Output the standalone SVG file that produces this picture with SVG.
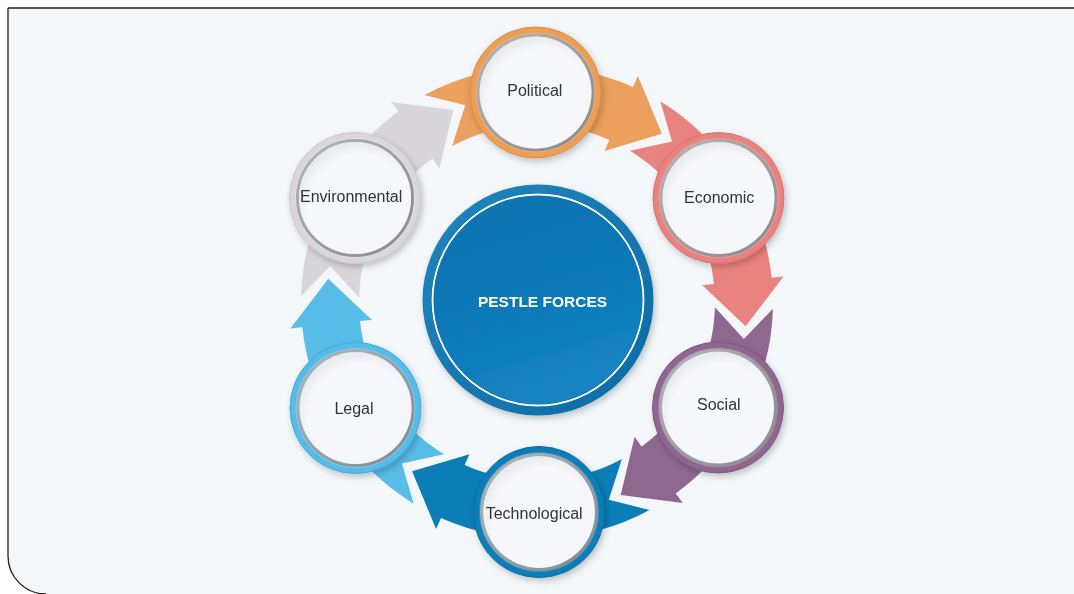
<svg xmlns="http://www.w3.org/2000/svg" width="1074" height="594" viewBox="0 0 1074 594">
  <defs>
    <style>
      .lbl { font-family: "Liberation Sans", Arial, sans-serif; font-size: 16px; fill: #333333; text-anchor: middle; }
      .title { font-family: "Liberation Sans", Arial, sans-serif; font-size: 15.5px; font-weight: bold; fill: #ffffff; text-anchor: middle; }
      .arrow { stroke: none; }
      .gray-ring { fill: none; stroke: url(#grayRing); stroke-width: 3; }
      .face { fill: url(#faceGrad); }
    </style>
    <filter id="sh" x="-25%" y="-25%" width="150%" height="150%">
      <feDropShadow dx="2" dy="3" stdDeviation="3" flood-color="#000000" flood-opacity="0.22"/>
    </filter>
    <linearGradient id="grayRing" x1="0" y1="0" x2="1" y2="1">
      <stop offset="0" stop-color="#B3B6B9"/>
      <stop offset="1" stop-color="#868A8D"/>
    </linearGradient>
    <radialGradient id="faceGrad" cx="0.55" cy="0.58" r="0.6">
      <stop offset="0.78" stop-color="#F5F7FA"/>
      <stop offset="1" stop-color="#E6E9EC"/>
    </radialGradient>
    <linearGradient id="rimGrad" x1="0" y1="0" x2="1" y2="1">
      <stop offset="0" stop-color="#2386BE"/>
      <stop offset="1" stop-color="#0A6AA3"/>
    </linearGradient>
    <linearGradient id="coreGrad" x1="0" y1="0" x2="0.3" y2="1">
      <stop offset="0" stop-color="#0A72B0"/>
      <stop offset="0.6" stop-color="#0B79B8"/>
      <stop offset="1" stop-color="#1583C0"/>
    </linearGradient>
  </defs>

  <!-- background panel -->
  <rect x="0" y="0" width="1074" height="594" fill="#ffffff"/>
  <path d="M1074 8 H8 V556 A38 38 0 0 0 46 594 H1074 Z" fill="#F3F7FA"/>
  <path d="M1074 8 H8" fill="none" stroke="#555555" stroke-width="1.8"/>
  <path d="M8 8 V556 A38 38 0 0 0 46 594" fill="none" stroke="#222222" stroke-width="1.3"/>

  <!-- connectors: curved arrows -->
  <g id="connectors">
    <path id="arrow-political-economic" class="arrow" fill="#EBA05D"
      d="M424.4 95.1 A236 236 0 0 1 633 86.9 L637.9 75.9 L661.9 133.7 L604.5 150.9 L609.4 139.9 A178 178 0 0 0 452.1 146.1 L465.2 105.2 Z"/>
    <path id="arrow-economic-social" class="arrow" fill="#E9837F"
      d="M660.3 101.3 A236 236 0 0 1 771.7 277.8 L783.6 276.6 L745.6 326.3 L702.1 285.1 L714 283.9 A178 178 0 0 0 630 150.7 L672 141.6 Z"/>
    <path id="arrow-social-technological" class="arrow" fill="#8F6890"
      d="M772.9 308.7 A236 236 0 0 1 675.7 493.4 L682.8 503.1 L620.7 495.1 L634.6 436.8 L641.6 446.5 A178 178 0 0 0 714.9 307.2 L743.8 339 Z"/>
    <path id="arrow-technological-legal" class="arrow" fill="#0B7EB8"
      d="M649.6 509.9 A236 236 0 0 1 441 518.1 L436.1 529.1 L412.1 471.3 L469.5 454.2 L464.6 465.1 A178 178 0 0 0 621.9 458.9 L608.8 499.8 Z"/>
    <path id="arrow-legal-environmental" class="arrow" fill="#58BCE9"
      d="M413.7 503.7 A236 236 0 0 1 302.3 327.2 L290.4 328.4 L328.3 278.7 L371.9 319.9 L360 321.1 A178 178 0 0 0 444 454.3 L402 463.4 Z"/>
    <path id="arrow-environmental-political" class="arrow" fill="#D8D6D9"
      d="M301.1 296.3 A236 236 0 0 1 398.3 111.6 L391.2 101.9 L453.3 109.9 L439.4 168.2 L432.4 158.5 A178 178 0 0 0 359.1 297.8 L330.2 266 Z"/>
  </g>

  <!-- center -->
  <g id="pestle-forces" filter="url(#sh)">
    <circle cx="538" cy="300" r="115.5" fill="url(#rimGrad)"/>
    <circle cx="538" cy="300" r="107" fill="#0B74B2"/>
    <circle cx="538" cy="300" r="105.5" fill="none" stroke="#ffffff" stroke-width="1.8"/>
    <circle cx="538" cy="300" r="104" fill="url(#coreGrad)"/>
    <text class="title" x="542.5" y="306.5">PESTLE FORCES</text>
  </g>

  <!-- nodes -->
  <g id="political" filter="url(#sh)">
    <circle cx="535.5" cy="92.5" r="65.5" fill="#EB9E56" stroke="#E08B3F" stroke-width="1"/>
    <circle cx="535.5" cy="92.5" r="60" fill="#F0B075"/>
    <circle cx="535.5" cy="92.5" r="57.5" class="gray-ring"/>
    <circle cx="535.5" cy="92.5" r="56" class="face"/>
    <text class="lbl" x="534.8" y="96">Political</text>
  </g>
  <g id="economic" filter="url(#sh)">
    <circle cx="718.5" cy="198" r="65.5" fill="#E8827F" stroke="#DC716E" stroke-width="1"/>
    <circle cx="718.5" cy="198" r="60" fill="#EE9C99"/>
    <circle cx="718.5" cy="198" r="57.5" class="gray-ring"/>
    <circle cx="718.5" cy="198" r="56" class="face"/>
    <text class="lbl" x="719.2" y="202.7">Economic</text>
  </g>
  <g id="social" filter="url(#sh)">
    <circle cx="718" cy="407.5" r="65.5" fill="#8E6690" stroke="#7F5781" stroke-width="1"/>
    <circle cx="718" cy="407.5" r="60" fill="#A27FA4"/>
    <circle cx="718" cy="407.5" r="57.5" class="gray-ring"/>
    <circle cx="718" cy="407.5" r="56" class="face"/>
    <text class="lbl" x="718.8" y="410">Social</text>
  </g>
  <g id="technological" filter="url(#sh)">
    <circle cx="539" cy="512" r="65.5" fill="#0C7DB6" stroke="#0A6DA2" stroke-width="1"/>
    <circle cx="539" cy="512" r="60" fill="#3391C4"/>
    <circle cx="539" cy="512" r="57.5" class="gray-ring"/>
    <circle cx="539" cy="512" r="56" class="face"/>
    <text class="lbl" x="534.2" y="519">Technological</text>
  </g>
  <g id="legal" filter="url(#sh)">
    <circle cx="355.5" cy="408" r="65.5" fill="#55BBE8" stroke="#43ABD9" stroke-width="1"/>
    <circle cx="355.5" cy="408" r="60" fill="#7DCAEE"/>
    <circle cx="355.5" cy="408" r="57.5" class="gray-ring"/>
    <circle cx="355.5" cy="408" r="56" class="face"/>
    <text class="lbl" x="354" y="414">Legal</text>
  </g>
  <g id="environmental" filter="url(#sh)">
    <circle cx="355" cy="198" r="65.5" fill="#D9D7DA" stroke="#CAC8CB" stroke-width="1"/>
    <circle cx="355" cy="198" r="60" fill="#E4E2E5"/>
    <circle cx="355" cy="198" r="57.5" class="gray-ring"/>
    <circle cx="355" cy="198" r="56" class="face"/>
    <text class="lbl" x="351.2" y="201.7">Environmental</text>
  </g>
</svg>
